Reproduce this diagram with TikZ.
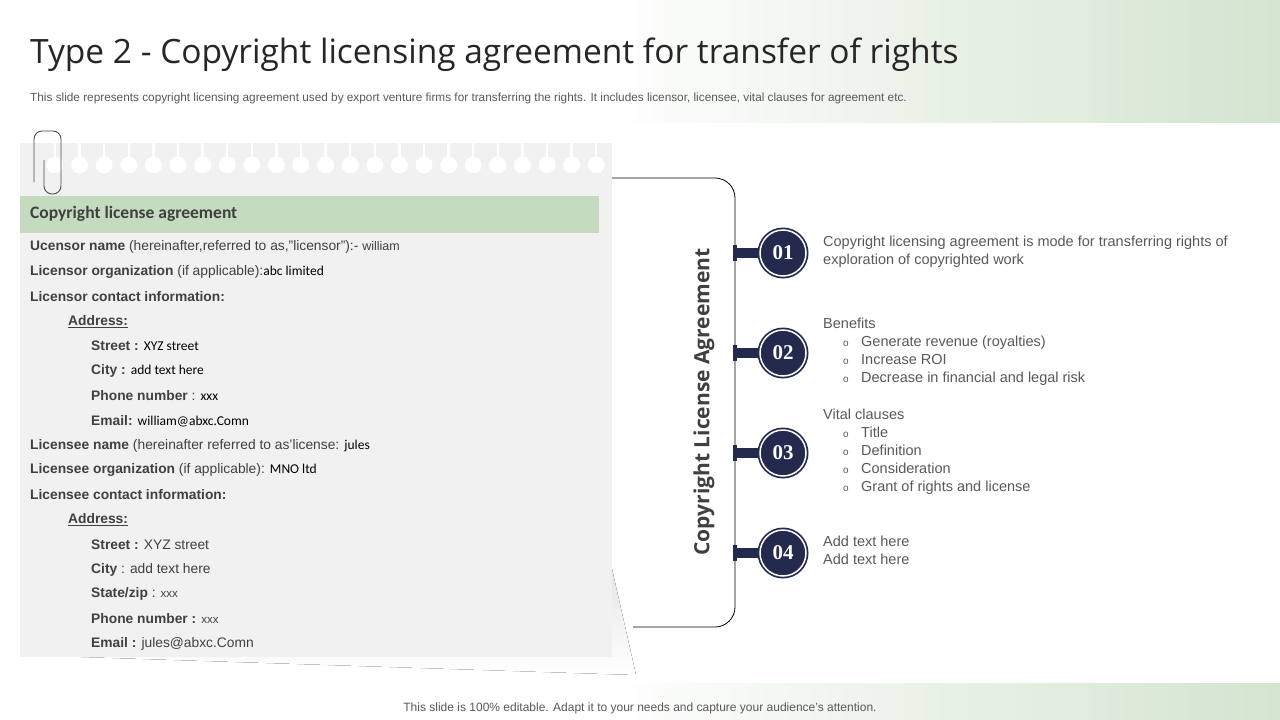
\documentclass[tikz,border=0pt]{standalone}
\usepackage{fontspec}
\setmainfont{Liberation Sans}
\newfontfamily\osans{Open Sans}
\newfontfamily\carl{Carlito}
\newfontfamily\serifnum{Liberation Serif}
\usetikzlibrary{calc}
\definecolor{lgreen}{HTML}{C5DBC0}
\definecolor{paper}{HTML}{F1F1F1}
\definecolor{shade}{HTML}{E3E3E3}
\definecolor{navy}{HTML}{232A4E}
\definecolor{txt}{HTML}{595959}
\definecolor{dtxt}{HTML}{404040}
\newcommand{\vv}[1]{{\carl\color{black}\fontsize{13.5}{15}\selectfont #1}}
\newcommand{\bul}{\hspace{20pt}\makebox[18pt][l]{\fontsize{10}{10}\selectfont o}}
\tikzset{
  lbl/.style={anchor=west,inner sep=0pt,font=\fontsize{13.8}{15}\selectfont,text=dtxt},
  rtxt/.style={anchor=north west,inner sep=0pt,align=left,font=\fontsize{14.5}{18}\selectfont,text=txt},
  numc/.style={circle,fill=navy,draw=white,line width=1.5pt,minimum size=46pt,inner sep=0pt,text=white,font=\serifnum\bfseries\fontsize{21}{21}\selectfont},
  stub/.style={fill=navy,draw=none}
}
\begin{document}
\begin{tikzpicture}[x=1pt,y=-1pt]
\useasboundingbox (0,0) rectangle (1280,720);
\fill[white] (0,0) rectangle (1280,720);
\shade[left color=white,right color=lgreen!75] (600,0) rectangle (1280,122);
\shade[left color=white,right color=lgreen!75] (600,683) rectangle (1280,720);
\node[anchor=west,inner sep=0pt,font=\osans\fontsize{33.5}{36}\selectfont,text=black!85] (title) at (30,55) {Type 2 - Copyright licensing agreement for transfer of rights};
\node[anchor=west,inner sep=0pt,font=\fontsize{11.8}{13}\selectfont,text=txt] (sub) at (30,98) {This slide represents copyright licensing agreement used by export venture firms for transferring the rights. It includes licensor, licensee, vital clauses for agreement etc.};
\node[inner sep=0pt,font=\fontsize{12}{13}\selectfont,text=txt] (foot) at (640,708) {This slide is 100\% editable. Adapt it to your needs and capture your audience's attention.};
% bracket
\draw[black,line width=0.8pt,rounded corners=20pt] (612,178) -- (735,178) -- (735,627) -- (633,627);
% notepad shadow and paper
\fill[shade] (610,143) -- (610,560) -- (636,675) -- (20,655) -- cycle;
\fill[paper] (20,143) rectangle (612,657);
\foreach \i in {0,...,22} {
  \pgfmathsetmacro\xx{55+\i*24.6}
  \fill[white] (\xx-1.2,143) rectangle (\xx+1.2,160);
  \fill[white] (\xx,165) circle (8.5);
}
% paperclip
\draw[black!70,line width=0.9pt,rounded corners=8pt] (44,160) -- (44,194) -- (61,194) -- (61,131) -- (34,131) -- (34,182);
\fill[lgreen] (20,196) rectangle (599,233);
\node[anchor=west,inner sep=0pt,font=\carl\bfseries\fontsize{17.5}{19}\selectfont,text=dtxt] (hdr) at (30,214) {Copyright license agreement};
\node[lbl] (l1) at (30,247) {\textbf{Ucensor name} (hereinafter,referred to as,''licensor''):- {\fontsize{12.5}{14}\selectfont william}};
\node[lbl] (l2) at (30,272) {\textbf{Licensor organization} (if applicable):\vv{abc limited}};
\node[lbl] (l3) at (30,297) {\textbf{Licensor contact information:}};
\node[lbl] (l4) at (68,322) {\textbf{\underline{Address:}}};
\node[lbl] (l5) at (91,346) {\textbf{Street :} \vv{XYZ street}};
\node[lbl] (l6) at (91,371) {\textbf{City :} \vv{add text here}};
\node[lbl] (l7) at (91,396) {\textbf{Phone number} : \vv{xxx}};
\node[lbl] (l8) at (91,421) {\textbf{Email:} \vv{william@abxc.Comn}};
\node[lbl] (l9) at (30,446) {\textbf{Licensee name} (hereinafter referred to as'license: \vv{jules}};
\node[lbl] (l10) at (30,470) {\textbf{Licensee organization} (if applicable): \vv{MNO ltd}};
\node[lbl] (l11) at (30,495) {\textbf{Licensee contact information:}};
\node[lbl] (l12) at (68,520) {\textbf{\underline{Address:}}};
\node[lbl] (l13) at (91,545) {\textbf{Street :} XYZ street};
\node[lbl] (l14) at (91,570) {\textbf{City} : add text here};
\node[lbl] (l15) at (91,594) {\textbf{State/zip} : {\fontsize{11.5}{13}\selectfont xxx}};
\node[lbl] (l16) at (91,619) {\textbf{Phone number :} {\fontsize{11.5}{13}\selectfont xxx}};
\node[lbl] (l17) at (91,644) {\textbf{Email :} jules@abxc.Comn};
\node[rotate=90,inner sep=0pt,font=\osans\bfseries\fontsize{21}{24}\selectfont,text=black!75] (vlab) at (704,402) {Copyright License Agreement};
\foreach \n/\yy in {01/253,02/353,03/453,04/553} {
  \fill[stub] (735,\yy-5) rectangle (760,\yy+5);
  \fill[stub] (733,\yy-8) rectangle (737,\yy+8);
  \fill[navy] (783,\yy) circle (25.5);
  \node[numc] (c\n) at (783,\yy) {\n};
}
\node[rtxt] (t1) at (823,236) {Copyright licensing agreement is mode for transferring rights of\\exploration of copyrighted work};
\node[rtxt] (t2) at (823,318) {Benefits\\\bul Generate revenue (royalties)\\\bul Increase ROI\\\bul Decrease in financial and legal risk};
\node[rtxt] (t3) at (823,409) {Vital clauses\\\bul Title\\\bul Definition\\\bul Consideration\\\bul Grant of rights and license};
\node[rtxt] (t4) at (823,536) {Add text here\\Add text here};
\end{tikzpicture}
\end{document}
